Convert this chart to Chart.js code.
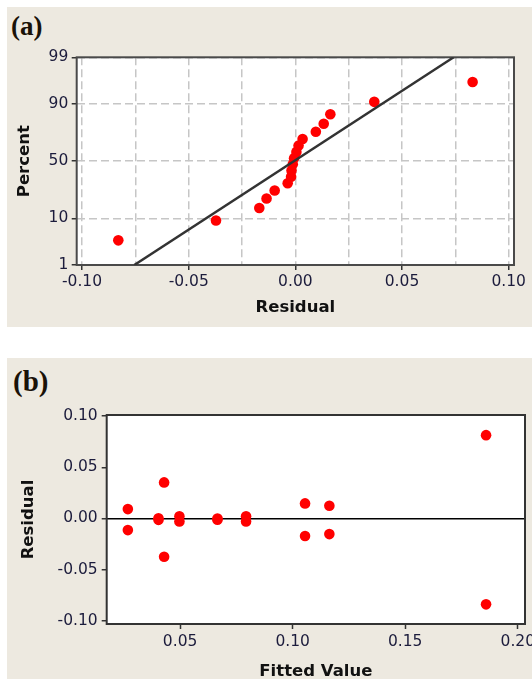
<!DOCTYPE html>
<html>
<head>
<meta charset="utf-8">
<script src="https://cdn.jsdelivr.net/npm/chart.js@4.4.1/dist/chart.umd.min.js"></script>
<style>
  html, body { margin: 0; padding: 0; overflow: hidden; background: #fff; }
  body { position: relative; width: 532px; height: 679px; }
  .panel { position: absolute; background: #ede9e0; }
  .tag { position: absolute; font-family: "Liberation Serif", serif; font-weight: bold; line-height: 1; color: #1a1208; }
  canvas { position: absolute; left: 0; }
</style>
</head>
<body>
<div class="panel" style="left:7px; top:7px; width:525px; height:320px"></div>
<div class="panel" style="left:7px; top:358px; width:525px; height:321px"></div>
<div class="tag" style="left:11px; top:13px; font-size:27px">(a)</div>
<div class="tag" style="left:13px; top:367px; font-size:29px">(b)</div>
<canvas id="probPlot" width="532" height="330" style="top:0"></canvas>
<canvas id="fitPlot" width="545" height="345" style="top:340px"></canvas>
<script>
// (a) normal probability plot of residuals
const residuals = [-0.0830, -0.0372, -0.0169, -0.0135, -0.0097, -0.0036, -0.0020, -0.0018, -0.0012,
                   -0.0006, 0.0005, 0.0015, 0.0034, 0.0096, 0.0133, 0.0164, 0.0370, 0.0831];
const percents = [3.8, 9.2, 14.7, 20.1, 25.5, 31.0, 36.4, 41.8, 47.3,
                  52.7, 58.2, 63.6, 69.0, 74.5, 79.9, 85.3, 90.8, 96.2];
const fitResidual = [-0.0755, 0.0742];
const fitPercent = [1, 99];
const percentTicks = [1, 10, 50, 90, 99];
const residualGrid = [-0.10, -0.075, -0.05, -0.025, 0, 0.025, 0.05, 0.075, 0.10];
const residualLabels = [-0.10, -0.05, 0, 0.05, 0.10];

// (b) residuals versus fitted values
const fittedValues = [0.0268, 0.0268, 0.0404, 0.0404, 0.0429, 0.0429, 0.0497, 0.0497, 0.0666,
                      0.0666, 0.0793, 0.0793, 0.1055, 0.1055, 0.1163, 0.1163, 0.1859, 0.1859];
const fitResiduals = [0.0091, -0.0114, 0.0002, -0.0014, 0.0352, -0.0375, 0.0022, -0.0030, 0.0000,
                      -0.0012, 0.0022, -0.0030, 0.0147, -0.0172, 0.0124, -0.0153, 0.0814, -0.0840];
const fittedTicks = [0.05, 0.10, 0.15, 0.20];
const residualTicksB = [-0.10, -0.05, 0, 0.05, 0.10];

// inverse normal CDF (Acklam) for the probability axis
function probit(p) {
    const a = [-39.69683028665376, 220.9460984245205, -275.9285104469687, 138.3577518672690, -30.66479806614716, 2.506628277459239];
    const b = [-54.47609879822406, 161.5858368580409, -155.6989798598866, 66.80131188771972, -13.28068155288572];
    const c = [-0.007784894002430293, -0.3223964580411365, -2.400758277161838, -2.549732539343734, 4.374664141464968, 2.938163982698783];
    const d = [0.007784695709041462, 0.3224671290700398, 2.445134137142996, 3.754408661907416];
    const tail = q => (((((c[0]*q+c[1])*q+c[2])*q+c[3])*q+c[4])*q+c[5]) / ((((d[0]*q+d[1])*q+d[2])*q+d[3])*q+1);
    if (p < 0.02425) return tail(Math.sqrt(-2*Math.log(p)));
    if (p > 1 - 0.02425) return -tail(Math.sqrt(-2*Math.log(1-p)));
    const q = p - 0.5, r = q*q;
    return (((((a[0]*r+a[1])*r+a[2])*r+a[3])*r+a[4])*r+a[5])*q / (((((b[0]*r+b[1])*r+b[2])*r+b[3])*r+b[4])*r+1);
}

// two decimals, never "-0.00"
const fmt = v => (Math.abs(v) < 1e-9 ? 0 : v).toFixed(2);
const isLabelled = v => residualLabels.some(l => Math.abs(l - v) < 1e-9);

Chart.defaults.font.family = '"DejaVu Sans", sans-serif';
Chart.defaults.animation = false;

const tickFont = { size: 15.5 };
const titleFont = { size: 16.5, weight: 'bold' };
const tickColor = '#1c1c3c';

// white plot area + dark frame
const plotFrame = {
    id: 'plotFrame',
    beforeDraw(chart) {
        const { ctx, chartArea: a } = chart;
        ctx.save();
        ctx.fillStyle = '#fff';
        ctx.fillRect(a.left, a.top, a.width, a.height);
        ctx.restore();
    },
    beforeDatasetsDraw(chart, args, opts) {
        const { ctx, chartArea: a } = chart;
        ctx.save();
        ctx.strokeStyle = opts.color;
        ctx.lineWidth = opts.width;
        ctx.strokeRect(a.left, a.top, a.width, a.height);
        ctx.restore();
    }
};

// (a)
new Chart(document.getElementById('probPlot'), {
    type: 'scatter',
    data: {
        datasets: [{
            data: residuals.map((r, i) => ({ x: r, y: probit(percents[i] / 100) })),
            backgroundColor: '#ff0000',
            borderWidth: 0,
            pointRadius: 5.3,
            order: 1
        }, {
            data: fitResidual.map((r, i) => ({ x: r, y: probit(fitPercent[i] / 100) })),
            showLine: true,
            borderColor: '#333333',
            borderWidth: 2.5,
            pointRadius: 0,
            order: 0
        }]
    },
    options: {
        responsive: false,
        layout: { padding: { top: 57.3, right: 18, bottom: 0, left: 0 } },
        plugins: {
            legend: { display: false },
            tooltip: { enabled: false },
            plotFrame: { color: '#4a4a4a', width: 2 }
        },
        scales: {
            x: {
                type: 'linear',
                min: -0.1025,
                max: 0.1025,
                afterBuildTicks: s => { s.ticks = residualGrid.map(v => ({ value: v })); },
                afterFit: s => { s.height = 65; },
                ticks: {
                    autoSkip: false,
                    maxRotation: 0,
                    padding: 3,
                    font: tickFont,
                    color: tickColor,
                    callback: v => isLabelled(v) ? fmt(v) : ''
                },
                grid: {
                    color: '#c6c6c6',
                    lineWidth: 1.5,
                    tickLength: 5,
                    tickWidth: 1.5,
                    tickColor: c => isLabelled(c.tick.value) ? '#333' : 'transparent'
                },
                border: { display: false, dash: [8, 4] },
                title: { display: true, text: 'Residual', font: titleFont, color: '#111', padding: { top: 0, bottom: 12.6 } }
            },
            y: {
                type: 'linear',
                min: probit(0.01),
                max: probit(0.99),
                afterBuildTicks: s => { s.ticks = percentTicks.map(p => ({ value: probit(p / 100) })); },
                afterFit: s => { s.width = 76.7; },
                ticks: {
                    padding: 3.4,
                    font: tickFont,
                    color: tickColor,
                    callback: (v, i) => String(percentTicks[i])
                },
                grid: { color: '#c6c6c6', lineWidth: 1.5, tickLength: 5, tickWidth: 1.5, tickColor: '#333' },
                border: { display: false, dash: [8, 4] },
                title: { display: true, text: 'Percent', font: titleFont, color: '#111', padding: { top: 14.7, bottom: 0 } }
            }
        }
    },
    plugins: [plotFrame]
});

// (b)
new Chart(document.getElementById('fitPlot'), {
    type: 'scatter',
    data: {
        datasets: [{
            data: fittedValues.map((f, i) => ({ x: f, y: fitResiduals[i] })),
            backgroundColor: '#ff0000',
            borderWidth: 0,
            pointRadius: 5.3
        }]
    },
    options: {
        responsive: false,
        layout: { padding: { top: 75, right: 20, bottom: 0, left: 0 } },
        plugins: {
            legend: { display: false },
            tooltip: { enabled: false },
            plotFrame: { color: '#333333', width: 2 }
        },
        scales: {
            x: {
                type: 'linear',
                min: 0.0174,
                max: 0.2032,
                afterBuildTicks: s => { s.ticks = fittedTicks.map(v => ({ value: v })); },
                afterFit: s => { s.height = 61; },
                ticks: { autoSkip: false, maxRotation: 0, padding: 3.7, font: tickFont, color: tickColor, callback: v => fmt(v) },
                grid: { drawOnChartArea: false, tickLength: 5, tickWidth: 1.5, tickColor: '#333' },
                border: { display: false },
                title: { display: true, text: 'Fitted Value', font: titleFont, color: '#111', padding: { top: 0, bottom: 3.1 } }
            },
            y: {
                type: 'linear',
                min: -0.1032,
                max: 0.1011,
                afterBuildTicks: s => { s.ticks = residualTicksB.map(v => ({ value: v })); },
                afterFit: s => { s.width = 106.7; },
                ticks: { padding: 4, font: tickFont, color: tickColor, callback: v => fmt(v) },
                grid: {
                    color: c => (c.tick && Math.abs(c.tick.value) < 1e-9) ? '#000' : 'transparent',
                    lineWidth: 1.5,
                    tickLength: 5,
                    tickWidth: 1.5,
                    tickColor: '#333'
                },
                border: { display: false },
                title: { display: true, text: 'Residual', font: titleFont, color: '#111', padding: { top: 18.4, bottom: 0 } }
            }
        }
    },
    plugins: [plotFrame]
});
</script>
</body>
</html>
